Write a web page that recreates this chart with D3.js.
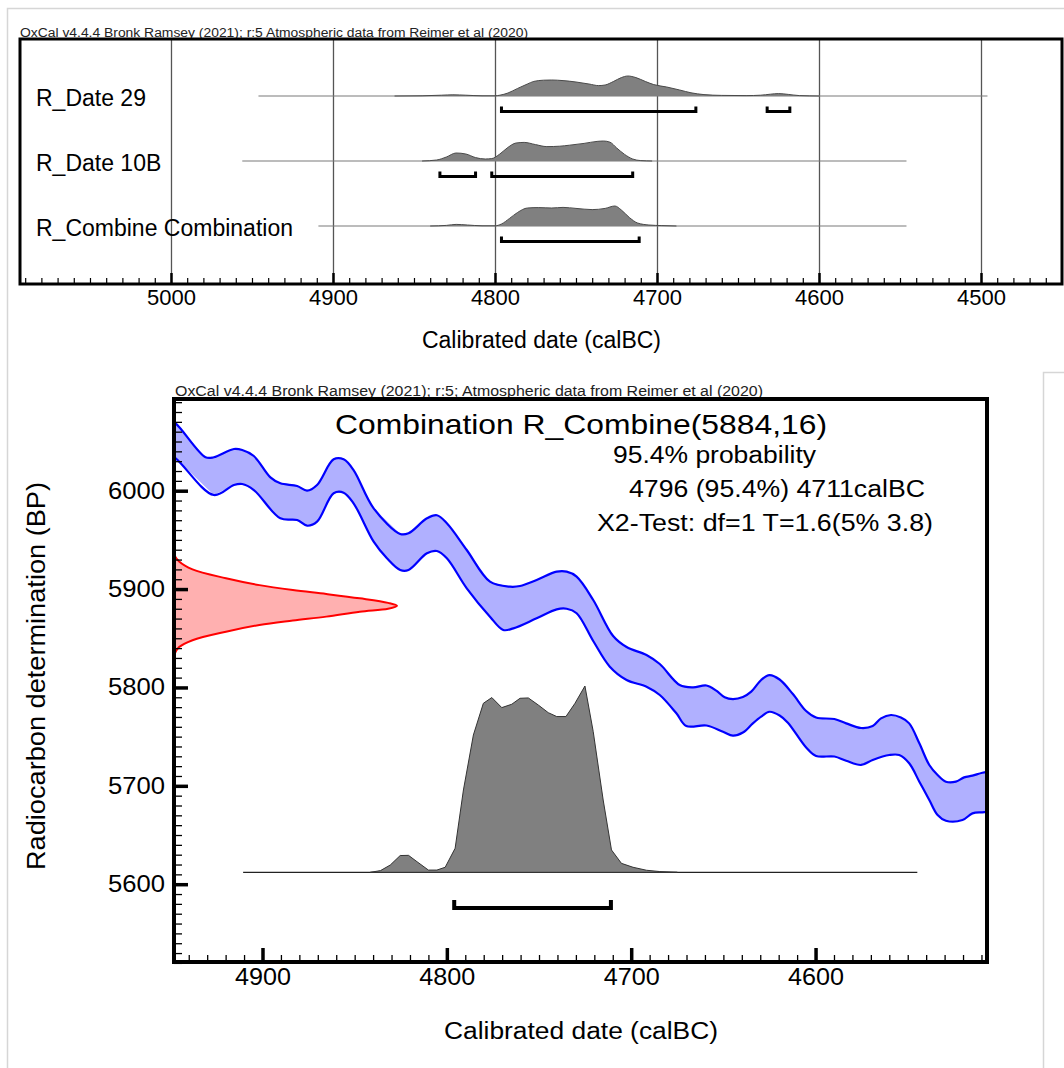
<!DOCTYPE html>
<html><head><meta charset="utf-8">
<script src="https://cdn.jsdelivr.net/npm/d3@7"></script>
<style>
body{margin:0;background:#fff}
svg{display:block}
text{font-family:"Liberation Sans",Arial,sans-serif;fill:#000}
</style>
</head><body>
<svg id="c" width="1064" height="1068"></svg>
<script>
// ---------------- DATA ----------------
const topHeader = "OxCal v4.4.4 Bronk Ramsey (2021); r:5 Atmospheric data from Reimer et al (2020)";
const bottomHeader = "OxCal v4.4.4 Bronk Ramsey (2021); r:5; Atmospheric data from Reimer et al (2020)";
const xAxisTitle = "Calibrated date (calBC)";
const yAxisTitle = "Radiocarbon determination (BP)";
const topTicks = [5000, 4900, 4800, 4700, 4600, 4500];
const bottomTicks = [4900, 4800, 4700, 4600];
const bpTicks = [6000, 5900, 5800, 5700, 5600];

const rowNames = ["R_Date 29", "R_Date 10B", "R_Combine Combination"];
const rowSpans = [[4946, 4496], [4956, 4546], [4909, 4546]];

// relative probability (max = 1) by calendar year BC
const date29 = [[4862,0],[4845,0.01],[4833,0.04],[4826,0.06],[4818,0.04],[4808,0.01],[4800,0.01],[4797,0.04],[4792,0.15],[4786,0.38],[4780,0.6],[4776,0.73],[4770,0.79],[4765,0.8],[4758,0.77],[4750,0.7],[4742,0.6],[4736,0.52],[4732,0.55],[4727,0.72],[4722,0.92],[4718,1.0],[4713,0.92],[4707,0.72],[4702,0.57],[4694,0.45],[4686,0.3],[4679,0.16],[4671,0.07],[4660,0.03],[4645,0.02],[4636,0.04],[4630,0.09],[4625,0.12],[4619,0.08],[4612,0.02],[4600,0]];
const date10B = [[4845,0],[4836,0.05],[4830,0.2],[4824,0.4],[4818,0.35],[4812,0.17],[4806,0.1],[4802,0.12],[4797,0.35],[4792,0.68],[4787,0.9],[4782,0.93],[4775,0.82],[4768,0.72],[4760,0.74],[4754,0.79],[4745,0.88],[4737,0.98],[4733,1.0],[4729,0.94],[4725,0.66],[4720,0.33],[4715,0.1],[4710,0.02],[4703,0]];
const combineTop = [[4840,0],[4830,0.03],[4824,0.08],[4817,0.05],[4808,0.01],[4800,0.01],[4796,0.1],[4791,0.38],[4786,0.68],[4780,0.9],[4773,0.92],[4765,0.9],[4758,0.93],[4750,0.88],[4740,0.82],[4732,0.88],[4726,1.0],[4722,0.8],[4717,0.42],[4712,0.15],[4705,0.05],[4697,0.02],[4688,0]];
const date29Ranges = [[4796, 4676], [4632, 4618]];
const date10BRanges = [[4834, 4812], [4802, 4715]];
const combineRanges = [[4796, 4711]];

// combined posterior (bottom panel), relative probability
const combinePost = [[4841.5,0],[4836,0.009],[4830.7,0.039],[4825.3,0.09],[4820.8,0.091],[4816.2,0.057],[4810,0.012],[4805.4,0.012],[4800.9,0.027],[4795.5,0.129],[4791,0.442],[4785.6,0.737],[4780.2,0.907],[4775.6,0.938],[4770.2,0.884],[4764.8,0.902],[4760.3,0.934],[4755.8,0.936],[4750.4,0.898],[4745,0.857],[4740.4,0.836],[4735.4,0.836],[4730.5,0.907],[4725.1,1.0],[4720.6,0.755],[4715.2,0.388],[4710.7,0.12],[4705.3,0.048],[4699,0.027],[4691.7,0.011],[4684.5,0.004],[4675,0]];
const postSpan = [4910.5, 4544.8];

// radiocarbon likelihood 5884±16 BP (relative)
const likelihood = [[5935,0],[5928,0.023],[5920,0.083],[5911,0.233],[5904,0.383],[5899,0.533],[5895,0.683],[5890.6,0.833],[5886,0.96],[5883,1.0],[5880,0.96],[5877,0.833],[5872,0.683],[5868,0.533],[5863.5,0.383],[5856.7,0.233],[5848,0.083],[5841,0.023],[5833,0]];

// calibration curve band (BP), upper and lower edges
const curveUpper = [[4952,6074],[4947.1,6068.5],[4930.9,6034],[4926.4,6034],[4915.5,6042.4],[4911,6041.4],[4904.7,6035.3],[4895.7,6013.6],[4890.3,6007.5],[4881.2,6004.8],[4875.8,6000],[4870.4,6005.8],[4861.4,6031.9],[4856,6031.9],[4850.6,6021],[4839.7,5982.1],[4825.3,5956],[4820.8,5956.7],[4810.8,5971.9],[4805.4,5975],[4800,5966.9],[4789.2,5939.7],[4776.6,5907.5],[4765.7,5902.4],[4760.3,5903.1],[4751.3,5909.2],[4740.4,5917.7],[4735,5917.7],[4729.6,5912.6],[4720.6,5888.9],[4709.8,5852.3],[4702.5,5841.1],[4691.7,5833],[4684.5,5823.8],[4673.7,5802.5],[4666.5,5800.1],[4659.2,5802],[4653.8,5796.7],[4649.3,5790],[4644.8,5788.2],[4639.4,5790.3],[4634.9,5795.7],[4629.5,5807.6],[4625,5812.6],[4619.5,5808.1],[4612.3,5793.3],[4605.1,5776],[4599.7,5769.4],[4589.8,5767.9],[4583.4,5763.5],[4575.3,5758.8],[4569,5760.8],[4564.5,5768.6],[4559.1,5772],[4553.7,5769.4],[4549.2,5763.5],[4543.7,5743.2],[4538.3,5721.2],[4533.8,5711],[4529.3,5704.2],[4523.9,5704.2],[4519.4,5708.6],[4514.9,5710.3],[4509.5,5713.3],[4503,5715]];
const curveLower = [[4952,6038],[4947.1,6032.9],[4926.4,5995.6],[4915.5,6005.8],[4911,6006.8],[4904.7,6000.7],[4890.3,5971.9],[4881.2,5970.2],[4875.8,5964.4],[4870.4,5968.5],[4861.4,5997.4],[4856,5998],[4850.6,5987.2],[4839.7,5948.2],[4832.5,5931.3],[4825.3,5919.4],[4820.8,5919.4],[4810.8,5936.4],[4805.4,5938.7],[4800,5931.3],[4789.2,5900.8],[4776.6,5871.9],[4769.4,5858.4],[4763.9,5860.1],[4751.3,5870.3],[4740.4,5879.4],[4735,5880],[4729.6,5875.4],[4720.6,5847.2],[4711.6,5821.1],[4702.5,5807.6],[4691.7,5800.8],[4684.5,5792.3],[4675.5,5773.7],[4670.1,5760.8],[4659.2,5761.3],[4650.2,5755],[4644.8,5751.1],[4639.4,5754.2],[4634,5763.5],[4629.5,5770.3],[4625,5775.3],[4619.5,5771.5],[4615,5764.2],[4605.1,5738.9],[4599.7,5730.3],[4589.8,5729.8],[4583.4,5725.5],[4575.3,5721.2],[4569,5726.3],[4560,5731.3],[4554.6,5731.3],[4549.2,5722.9],[4543.7,5704.2],[4538.3,5685.6],[4533.8,5670.3],[4529.3,5664.5],[4520.3,5665.2],[4514.9,5672],[4509.5,5673.1],[4503,5674]];

const titleText = "Combination R_Combine(5884,16)";
const infoLines = ["95.4% probability", "4796 (95.4%) 4711calBC", "X2-Test: df=1 T=1.6(5% 3.8)"];

// ---------------- DRAWING ----------------
const svg = d3.select("#c");

function txt(g, str, x, y, size, anchor, len) {
  const t = g.append("text").attr("x", x).attr("y", y)
    .attr("font-size", size).attr("text-anchor", anchor || "start").text(str);
  if (len) t.attr("textLength", len).attr("lengthAdjust", "spacingAndGlyphs");
  return t;
}

// page borders
svg.append("path").attr("d", "M7.5,1068V8.5H1064").attr("fill", "none").attr("stroke", "#d6d6d6").attr("stroke-width", 1.5);
svg.append("path").attr("d", "M1043.5,1068V372.5H1064").attr("fill", "none").attr("stroke", "#d6d6d6").attr("stroke-width", 1.5);

// ===== TOP PANEL =====
const T = {l: 20, r: 1062, t: 39, b: 284};
const xTop = d3.scaleLinear().domain([5093.2, 4450]).range([T.l, T.r]);
const hTop = d3.scaleLinear().domain([0, 1]).range([0, 20]);
const rowY = [96, 161, 226];
const gTop = svg.append("g");

txt(gTop, topHeader, T.l, 37, 12, "start", 508).style("fill", "#222");

// grid lines
gTop.append("g").attr("transform", `translate(0,${T.b})`)
  .call(d3.axisBottom(xTop).tickValues(topTicks).tickSizeInner(-(T.b - T.t)).tickSizeOuter(0).tickFormat(""))
  .call(g => g.select(".domain").remove())
  .call(g => g.selectAll("line").attr("stroke", "#555").attr("stroke-width", 1.3));
// minor ticks
gTop.append("g").attr("transform", `translate(0,${T.b})`)
  .call(d3.axisBottom(xTop).tickValues(d3.range(5090, 4450, -10).filter(v => v % 100 !== 0)).tickSizeInner(-6).tickSizeOuter(0).tickFormat(""))
  .call(g => g.select(".domain").remove())
  .call(g => g.selectAll("line").attr("stroke", "#000").attr("stroke-width", 1.2));
// major ticks + labels
gTop.append("g").attr("transform", `translate(0,${T.b})`)
  .call(d3.axisBottom(xTop).tickValues(topTicks).tickSizeInner(-11).tickSizeOuter(0).tickPadding(5).tickFormat(d3.format("d")))
  .call(g => g.select(".domain").remove())
  .call(g => g.selectAll("line").attr("stroke", "#000").attr("stroke-width", 2.5))
  .call(g => g.selectAll("text").attr("font-size", 22).attr("font-family", "Liberation Sans, Arial, sans-serif").attr("fill", "#000"));

txt(gTop, xAxisTitle, 541.5, 347.5, 23, "middle");

const topDists = [date29, date10B, combineTop];
const topRanges = [date29Ranges, date10BRanges, combineRanges];
rowNames.forEach((name, i) => {
  const y0 = rowY[i];
  txt(gTop, name, 36, y0 + 10, 23, "start");
  gTop.append("line").attr("x1", xTop(rowSpans[i][0])).attr("x2", xTop(rowSpans[i][1]))
    .attr("y1", y0).attr("y2", y0).attr("stroke", "#7a7a7a").attr("stroke-width", 1.2);
  const area = d3.area().x(d => xTop(d[0])).y0(y0).y1(d => y0 - hTop(d[1])).curve(d3.curveMonotoneX);
  gTop.append("path").datum(topDists[i]).attr("d", area).attr("fill", "#808080");
  gTop.append("path").datum(topDists[i]).attr("d", area.lineY1())
    .attr("fill", "none").attr("stroke", "#4a4a4a").attr("stroke-width", 1);
  topRanges[i].forEach(r => {
    const yb = y0 + 15.5;
    gTop.append("path")
      .attr("d", `M${xTop(r[0])},${yb - 5}V${yb}H${xTop(r[1])}V${yb - 5}`)
      .attr("fill", "none").attr("stroke", "#000").attr("stroke-width", 3);
  });
});

gTop.append("rect").attr("x", T.l).attr("y", T.t).attr("width", T.r - T.l).attr("height", T.b - T.t)
  .attr("fill", "none").attr("stroke", "#000").attr("stroke-width", 3);

// ===== BOTTOM PANEL =====
const B = {l: 174, r: 987, t: 399, b: 962};
const xBot = d3.scaleLinear().domain([4948, 4507]).range([B.l, B.r]);
const yBot = d3.scaleLinear().domain([6000, 5600]).range([490.7, 884.2]);
const gB = svg.append("g");

svg.append("defs").append("clipPath").attr("id", "plotclip")
  .append("rect").attr("x", B.l).attr("y", B.t).attr("width", B.r - B.l).attr("height", B.b - B.t);

txt(gB, bottomHeader, B.l + 1, 396, 14, "start", 588).style("fill", "#222");

const gPlot = gB.append("g").attr("clip-path", "url(#plotclip)");

// calibration band
const bandPoly = curveUpper.concat(curveLower.slice().reverse());
gPlot.append("path").datum(bandPoly)
  .attr("d", d3.line().x(d => xBot(d[0])).y(d => yBot(d[1])).curve(d3.curveLinearClosed))
  .attr("fill", "#b0b0ff").attr("stroke", "none");
[curveUpper, curveLower].forEach(c => {
  gPlot.append("path").datum(c)
    .attr("d", d3.line().x(d => xBot(d[0])).y(d => yBot(d[1])).curve(d3.curveCatmullRom))
    .attr("fill", "none").attr("stroke", "#0000ff").attr("stroke-width", 2.2);
});

// likelihood (red)
const hLik = d3.scaleLinear().domain([0, 1]).range([0, 223]);
gPlot.append("path").datum(likelihood)
  .attr("d", d3.area().y(d => yBot(d[0])).x0(B.l).x1(d => B.l + hLik(d[1])).curve(d3.curveCatmullRom))
  .attr("fill", "#ffb0b0").attr("stroke", "none");
gPlot.append("path").datum(likelihood)
  .attr("d", d3.line().y(d => yBot(d[0])).x(d => B.l + hLik(d[1])).curve(d3.curveCatmullRom))
  .attr("fill", "none").attr("stroke", "#ff0000").attr("stroke-width", 2);

// posterior (gray)
const postBase = 872.3;
const hPost = d3.scaleLinear().domain([0, 1]).range([0, 186.3]);
gPlot.append("line").attr("x1", xBot(postSpan[0])).attr("x2", xBot(postSpan[1]))
  .attr("y1", postBase).attr("y2", postBase).attr("stroke", "#222").attr("stroke-width", 1.2);
gPlot.append("path").datum(combinePost)
  .attr("d", d3.area().x(d => xBot(d[0])).y0(postBase).y1(d => postBase - hPost(d[1])))
  .attr("fill", "#808080").attr("stroke", "#333").attr("stroke-width", 1);
combineRanges.forEach(r => {
  const yb = 908;
  gPlot.append("path").attr("d", `M${xBot(r[0])},${yb - 8}V${yb}H${xBot(r[1])}V${yb - 8}`)
    .attr("fill", "none").attr("stroke", "#000").attr("stroke-width", 4);
});

// axes
gB.append("g").attr("transform", `translate(${B.l},0)`)
  .call(d3.axisLeft(yBot).tickValues(d3.range(5520, 6100, 10).filter(v => v % 100 !== 0)).tickSizeInner(-8).tickSizeOuter(0).tickFormat(""))
  .call(g => g.select(".domain").remove())
  .call(g => g.selectAll("line").attr("stroke", "#000").attr("stroke-width", 1.3));
gB.append("g").attr("transform", `translate(${B.l},0)`)
  .call(d3.axisLeft(yBot).tickValues(bpTicks).tickSizeInner(-14).tickSizeOuter(0).tickPadding(9).tickFormat(d3.format("d")))
  .call(g => g.select(".domain").remove())
  .call(g => g.selectAll("line").attr("stroke", "#000").attr("stroke-width", 3.5))
  .call(g => g.selectAll("text").attr("font-size", 23).attr("font-family", "Liberation Sans, Arial, sans-serif").attr("fill", "#000")
    .attr("textLength", 57).attr("lengthAdjust", "spacingAndGlyphs"));

gB.append("g").attr("transform", `translate(0,${B.b})`)
  .call(d3.axisBottom(xBot).tickValues(d3.range(4940, 4507, -10).filter(v => v % 100 !== 0)).tickSizeInner(-7).tickSizeOuter(0).tickFormat(""))
  .call(g => g.select(".domain").remove())
  .call(g => g.selectAll("line").attr("stroke", "#000").attr("stroke-width", 1.3));
gB.append("g").attr("transform", `translate(0,${B.b})`)
  .call(d3.axisBottom(xBot).tickValues(bottomTicks).tickSizeInner(-14).tickSizeOuter(0).tickPadding(7).tickFormat(d3.format("d")))
  .call(g => g.select(".domain").remove())
  .call(g => g.selectAll("line").attr("stroke", "#000").attr("stroke-width", 3.5))
  .call(g => g.selectAll("text").attr("font-size", 23).attr("font-family", "Liberation Sans, Arial, sans-serif").attr("fill", "#000")
    .attr("textLength", 56).attr("lengthAdjust", "spacingAndGlyphs"));

gB.append("rect").attr("x", B.l).attr("y", B.t).attr("width", B.r - B.l).attr("height", B.b - B.t)
  .attr("fill", "none").attr("stroke", "#000").attr("stroke-width", 4);

// texts
txt(gB, titleText, 335, 434, 28, "start", 492);
txt(gB, infoLines[0], 613, 463, 23, "start", 203);
txt(gB, infoLines[1], 629, 497, 23, "start", 296);
txt(gB, infoLines[2], 597, 531, 23, "start", 336);
txt(gB, xAxisTitle, 581, 1039, 23, "middle", 274);
gB.append("text").attr("transform", "translate(45,676) rotate(-90)")
  .attr("font-size", 25).attr("text-anchor", "middle")
  .attr("textLength", 388).attr("lengthAdjust", "spacingAndGlyphs").text(yAxisTitle);
</script>
</body></html>
